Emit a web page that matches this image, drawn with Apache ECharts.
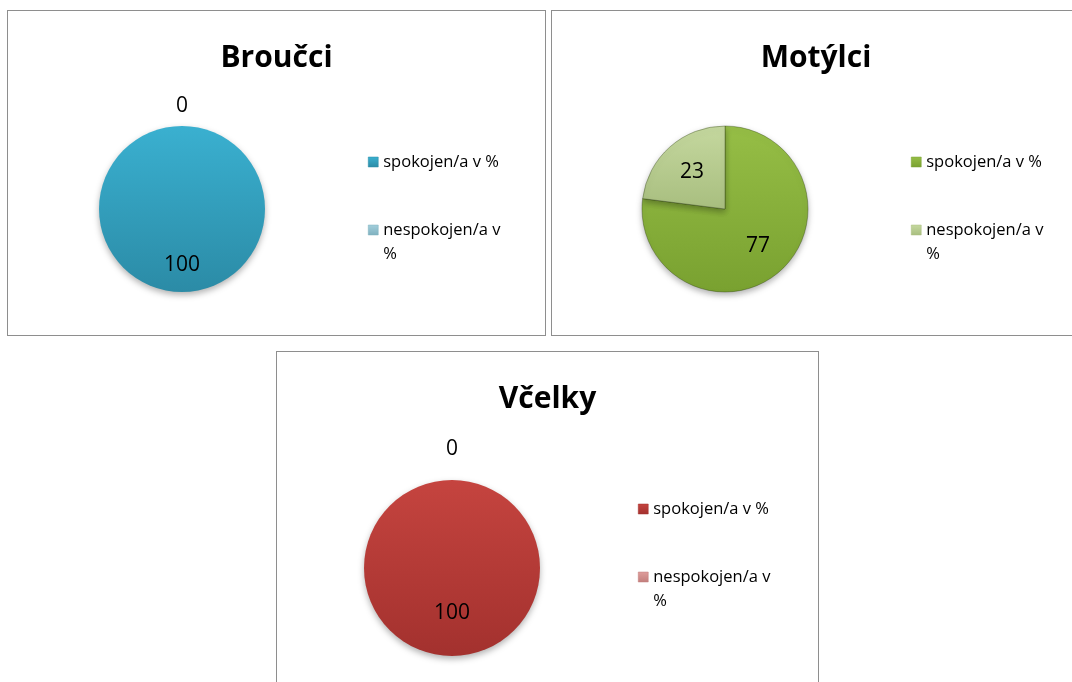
<!DOCTYPE html>
<html>
<head>
<meta charset="utf-8">
<script src="https://cdn.jsdelivr.net/npm/echarts@6/dist/echarts.min.js"></script>
<style>
  body { margin: 0; background: #fff; width: 1072px; height: 682px; overflow: hidden; position: relative; }
  .panel { position: absolute; border: 1px solid #8e8e8e; box-sizing: border-box; background: #fff; }
</style>
</head>
<body>
<div class="panel" id="p1" style="left:7px;top:10px;width:539px;height:326px"></div>
<div class="panel" id="p2" style="left:551px;top:10px;width:530px;height:326px"></div>
<div class="panel" id="p3" style="left:276px;top:351px;width:543px;height:340px"></div>
<script>
// legend / slice names
const categories = ['spokojen/a v %', 'nespokojen/a v %'];

// values per group
const titles = ['Broučci', 'Motýlci', 'Včelky'];
const brouccValues = [100, 0];
const motylciValues = [77, 23];
const vcelkyValues = [100, 0];

// colours: [top, bottom] gradient per slice
const palettes = [
  [['#3ab0d0', '#2b8ba6'], ['#a3cfdc', '#7fb0bf']],
  [['#96be46', '#79a130'], ['#c5d89f', '#a8be7f']],
  [['#c5443f', '#a3312e'], ['#df9e9c', '#c27e7c']]
];

const FONT = '"Open Sans", "Noto Sans", sans-serif';

function grad(c) {
  return new echarts.graphic.LinearGradient(0, 0, 0, 1, [
    { offset: 0, color: c[0] },
    { offset: 1, color: c[1] }
  ]);
}

function makeChart(id, title, values, pal, L) {
  const chart = echarts.init(document.getElementById(id));
  const cx = L.cx, cy = L.cy, r = L.r;
  const hasZero = values.indexOf(0) >= 0;
  const data = categories.map((name, i) => ({
    name: name,
    value: values[i],
    itemStyle: { color: grad(pal[i]) },
    label: { position: values[i] === 0 ? 'outside' : 'inside' }
  }));
  chart.setOption({
    animation: false,
    title: {
      text: title,
      left: 'center',
      top: 27,
      textStyle: { fontFamily: FONT, fontSize: 30, fontWeight: 'bold', color: '#000' }
    },
    legend: {
      orient: 'vertical',
      left: cx + 181,
      top: L.legendTop,
      itemWidth: 10,
      itemHeight: 10,
      itemGap: 20,
      icon: 'rect',
      selectedMode: false,
      data: [
        { name: categories[0], itemStyle: { color: grad(pal[0]), borderColor: pal[0][1], borderWidth: 0.5 } },
        { name: categories[1], itemStyle: { color: grad(pal[1]), borderColor: pal[1][1], borderWidth: 0.5 } }
      ],
      formatter: function (name) {
        // wrapped like the original; the blank first line keeps the icon on the first text line
        return name === categories[1] ? '\nnespokojen/a v\n%' : name;
      },
      textStyle: { fontFamily: FONT, fontSize: 16.5, color: '#000', lineHeight: 24 }
    },
    series: [{
      type: 'pie',
      center: [cx, cy],
      radius: r,
      startAngle: 90,
      clockwise: true,
      data: data,
      itemStyle: {
        borderColor: 'rgba(40,60,10,0.45)',
        borderWidth: hasZero ? 0 : 0.8,
        shadowBlur: 6,
        shadowOffsetY: 3,
        shadowColor: 'rgba(0,0,0,0.3)'
      },
      label: {
        show: true,
        formatter: '{c}',
        fontFamily: FONT,
        fontSize: 21,
        color: '#000'
      },
      labelLine: { show: false, length: 0, length2: 0 },
      labelLayout: function (p) {
        const lx = p.labelRect.x + p.labelRect.width / 2;
        const ly = p.labelRect.y + p.labelRect.height / 2;
        if (values[p.dataIndex] === 0) {
          return { x: cx, y: cy - r - L.zeroGap, align: 'center', verticalAlign: 'middle' };
        }
        return { dx: (lx - cx) * L.push, dy: (ly - cy) * L.push };
      },
      emphasis: { disabled: true }
    }]
  });
  return chart;
}

makeChart('p1', titles[0], brouccValues, palettes[0], { cx: 174, cy: 198, r: 83, legendTop: 134, zeroGap: 20, push: 0.25 });
makeChart('p2', titles[1], motylciValues, palettes[1], { cx: 173, cy: 198, r: 83, legendTop: 134, zeroGap: 20, push: 0.12 });
makeChart('p3', titles[2], vcelkyValues, palettes[2], { cx: 175, cy: 216, r: 88, legendTop: 140, zeroGap: 31, push: -0.05 });
</script>
</body>
</html>
